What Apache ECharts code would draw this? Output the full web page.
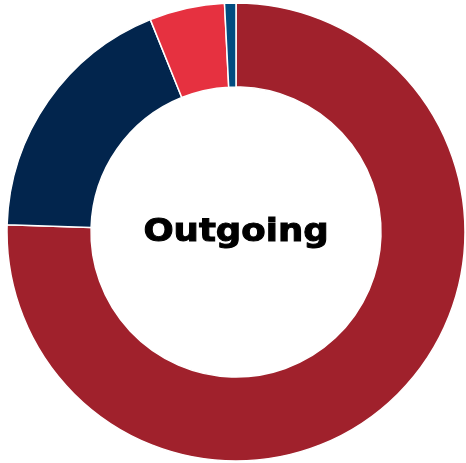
<!DOCTYPE html>
<html><head><meta charset="utf-8">
<script src="https://cdn.jsdelivr.net/npm/echarts@6/dist/echarts.min.js"></script>
<style>html,body{margin:0;padding:0;background:#fff}#c{width:466px;height:463px}</style>
</head><body><div id="c"></div>
<script>
const categories = ['A', 'B', 'C', 'D'];
const values = [75.5, 18.4, 5.3, 0.8];
const colors = ['#A0212C', '#02254D', '#E63140', '#014C80'];
const title = 'Outgoing';

const chart = echarts.init(document.getElementById('c'), null, {renderer: 'canvas'});
chart.setOption({
  animation: false,
  color: colors,
  graphic: [{
    type: 'text', x: 236, y: 233, scaleX: 1.11, z: 100,
    style: {
      text: title, fill: '#000', stroke: '#000', lineWidth: 1,
      align: 'center', verticalAlign: 'middle',
      font: 'bold 32px "DejaVu Sans"'
    }
  }],
  series: [{
    type: 'pie',
    center: [236, 232],
    radius: [145, 229],
    startAngle: 90,
    clockwise: true,
    label: {show: false},
    labelLine: {show: false},
    itemStyle: {borderColor: '#fff', borderWidth: 1.5},
    data: categories.map((c, i) => ({name: c, value: values[i]}))
  }]
});
</script></body></html>
